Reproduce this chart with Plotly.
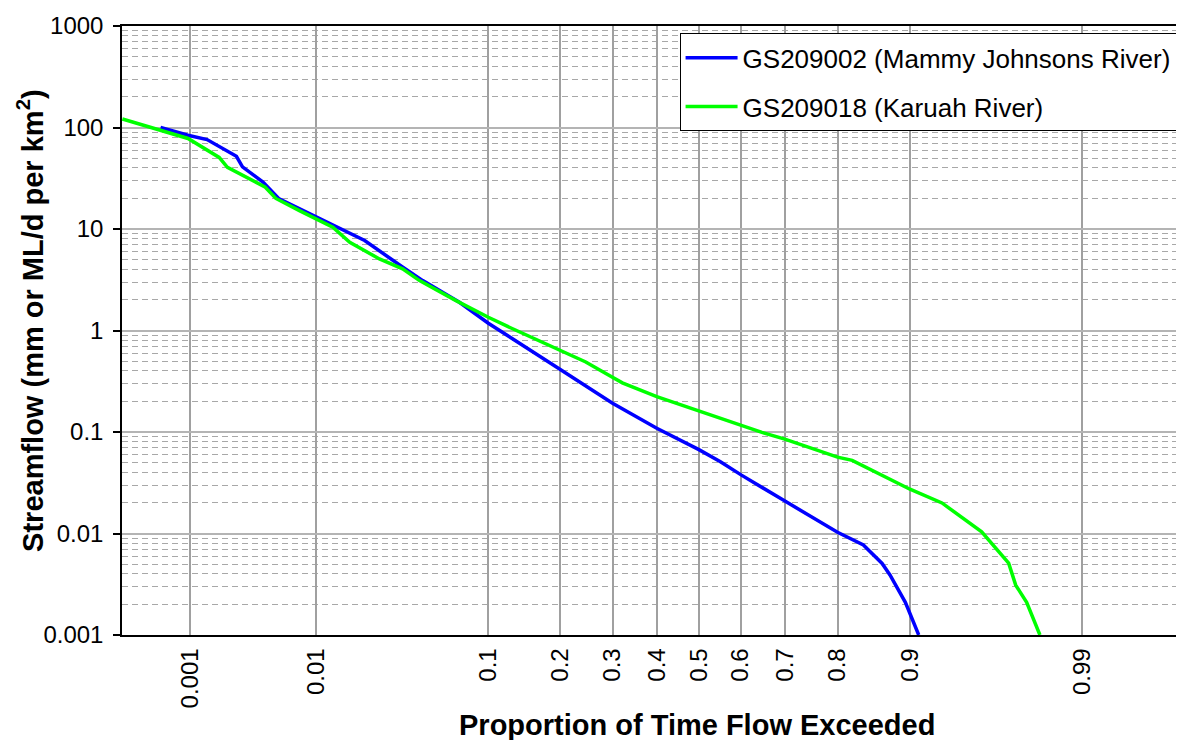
import plotly.graph_objects as go
from statistics import NormalDist

# ---- data (proportion of time flow exceeded, streamflow) ----
mammy_p = [0.00054, 0.00096, 0.00141, 0.00249, 0.00279, 0.00406, 0.00536, 0.0088,
           0.0212, 0.0361, 0.0468, 0.0729, 0.1005, 0.198, 0.300, 0.399, 0.5,
           0.552, 0.601, 0.693, 0.80, 0.841, 0.867, 0.877, 0.895, 0.909]
mammy_q = [100, 84, 76, 52, 41, 29, 20, 14.5,
           7.7, 4.2, 3.1, 1.9, 1.18, 0.42, 0.192, 0.109, 0.067,
           0.051, 0.0378, 0.0217, 0.0103, 0.0077, 0.00507, 0.0039, 0.0021, 0.001]

karuah_p = [0.000232, 0.00096, 0.00179, 0.0021, 0.0042, 0.0051, 0.0077, 0.0131,
            0.017, 0.0262, 0.036, 0.0449, 0.0701, 0.1005, 0.129, 0.2, 0.246,
            0.286, 0.321, 0.399, 0.5, 0.601, 0.649, 0.699, 0.80, 0.824, 0.90,
            0.930, 0.957, 0.970, 0.9728, 0.9767, 0.9808]
karuah_q = [121.5, 78, 50.7, 40.5, 26, 20, 15.1, 10.4,
            7.4, 5.07, 4.05, 3.1, 1.97, 1.35, 1.04, 0.64, 0.49,
            0.377, 0.305, 0.223, 0.161, 0.115, 0.099, 0.085, 0.0566, 0.0525, 0.0273,
            0.020, 0.0104, 0.0051, 0.0031, 0.0021, 0.001]

x_ticks = [0.001, 0.01, 0.1, 0.2, 0.3, 0.4, 0.5, 0.6, 0.7, 0.8, 0.9, 0.99]
x_tick_labels = ["0.001", "0.01", "0.1", "0.2", "0.3", "0.4", "0.5", "0.6", "0.7", "0.8", "0.9", "0.99"]
y_ticks = [0.001, 0.01, 0.1, 1, 10, 100, 1000]
y_tick_labels = ["0.001", "0.01", "0.1", "1", "10", "100", "1000"]

series_names = ["GS209002 (Mammy Johnsons River)", "GS209018 (Karuah River)"]
series_colors = ["#0000FF", "#00FF00"]

# normal probability scale
nd = NormalDist()
def prob_scale(ps):
    return [nd.inv_cdf(p) for p in ps]

minor_y = [m * 10 ** e for e in range(-3, 3) for m in range(2, 10)]

FONT = "Liberation Sans, Arial, sans-serif"

fig = go.Figure()
for i, (ps, qs) in enumerate([(mammy_p, mammy_q), (karuah_p, karuah_q)]):
    fig.add_trace(go.Scatter(
        x=prob_scale(ps), y=qs, mode="lines", name=series_names[i],
        legendgroup=f"g{i}",
        line=dict(color=series_colors[i], width=3.5),
    ))

fig.update_layout(
    width=1176, height=732,
    margin=dict(l=114, r=4, t=17, b=105),
    paper_bgcolor="white", plot_bgcolor="white",
    font=dict(family=FONT, size=24, color="black"),
    showlegend=True,
    legend=dict(
        x=0.528, xanchor="left", y=0.988, yanchor="top",
        bgcolor="white", bordercolor="black", borderwidth=1,
        font=dict(family=FONT, size=26, color="black"),
        itemwidth=52, tracegroupgap=12,
    ),
    xaxis=dict(
        range=[-3.503, 2.909],
        tickmode="array", tickvals=prob_scale(x_ticks), ticktext=x_tick_labels,
        tickangle=-90, ticks="", ticklabelstandoff=2,
        showgrid=True, gridcolor="#a0a0a0", gridwidth=2,
        showline=True, linecolor="black", linewidth=1.5, mirror=True,
        zeroline=False,
        tickfont=dict(family=FONT, size=24, color="black"),
    ),
    yaxis=dict(
        type="log", range=[-3, 3],
        tickmode="array", tickvals=y_ticks, ticktext=y_tick_labels,
        ticks="outside", ticklen=7, tickcolor="black", tickwidth=1.5,
        ticklabelstandoff=5,
        showgrid=True, gridcolor="#b4b4b4", gridwidth=1.5,
        showline=True, linecolor="black", linewidth=1.5, mirror=True,
        zeroline=False,
        tickfont=dict(family=FONT, size=24, color="black"),
        minor=dict(tickmode="array", tickvals=minor_y, showgrid=True,
                   gridcolor="#a8a8a8", gridwidth=1, griddash="6px,4px", ticks=""),
    ),
    annotations=[
        dict(text="<b>Proportion of Time Flow Exceeded</b>", xref="paper", yref="paper",
             x=0.5444, y=-0.1475, xanchor="center", yanchor="middle", showarrow=False,
             font=dict(family=FONT, size=29, color="black")),
        dict(text="<b>Streamflow (mm or ML/d per km<sup>2</sup>)</b>", xref="paper", yref="paper",
             x=-0.087, y=0.516, xanchor="center", yanchor="middle", showarrow=False,
             textangle=-90, font=dict(family=FONT, size=29, color="black")),
    ],
)

fig.write_html("out.html")
